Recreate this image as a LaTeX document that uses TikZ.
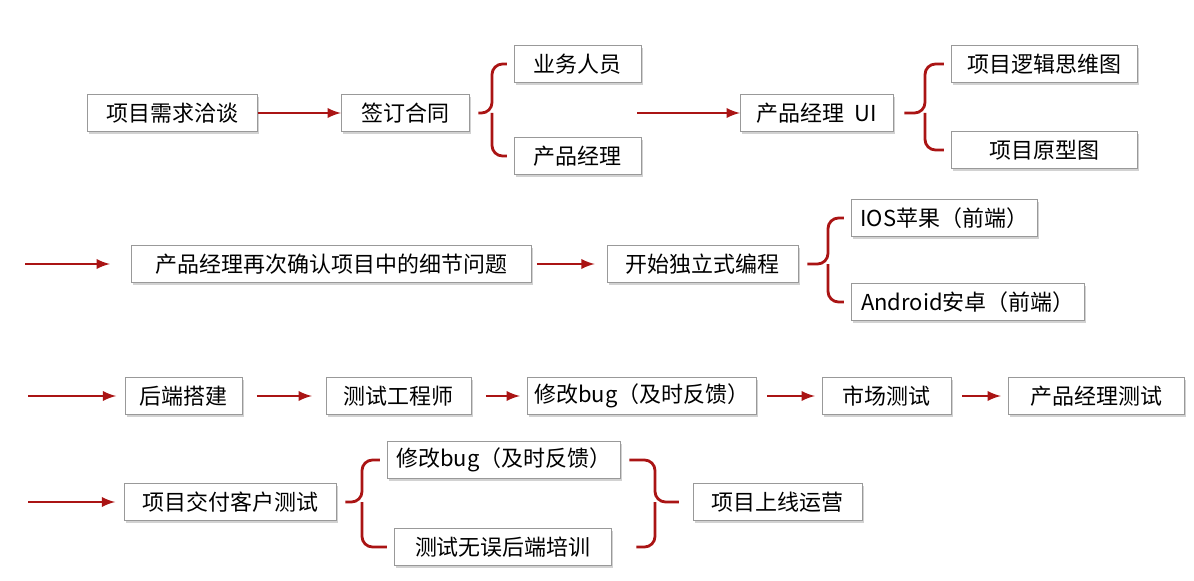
\documentclass[tikz,border=0pt]{standalone}
\usepackage{fontspec}
\setmainfont{Noto Sans CJK SC}
\usetikzlibrary{shadows}
\newcommand{\pxl}{0.02cm}
\definecolor{arrred}{RGB}{170,20,20}
\tikzset{
  box/.style={draw=gray!80, fill=white, anchor=west, inner xsep=0pt,
    minimum height=37*\pxl, font=\fontsize{12.5}{14}\selectfont,
    drop shadow={opacity=0.35, shadow xshift=1.2pt, shadow yshift=-1.2pt}},
  flow/.style={draw=arrred, line width=1.6pt, -latex},
  brc/.style={draw=arrred, line width=1.6pt, rounded corners=6pt}
}
\begin{document}
\begin{tikzpicture}[x=0.02cm, y=-0.02cm]
    \useasboundingbox[fill=white] (0,0) rectangle (1194,581);
    % row one
    \node[box, minimum width=170*\pxl] (xqqt) at (87,113) {项目需求洽谈};
    \node[box, minimum width=128*\pxl] (qdht) at (341,113) {签订合同};
    \node[box, minimum width=127*\pxl] (ywry) at (514,64) {业务人员};
    \node[box, minimum width=127*\pxl] (cpjl) at (514,156) {产品经理};
    \node[box, minimum width=153*\pxl] (cpui) at (740,113) {产品经理\ \ UI};
    \node[box, minimum width=186*\pxl] (ljst) at (951,64) {项目逻辑思维图};
    \node[box, minimum width=186*\pxl] (yxt) at (951,150) {项目原型图};
    \coordinate (a1) at (637,113);
    \draw[flow] (xqqt) -- (qdht);
    \draw[flow] (a1) -- (cpui);
    \draw[brc] ([xshift=-4]ywry.west) -| (492,113) -- ([xshift=5]qdht.east);
    \draw[brc] ([xshift=-4]cpjl.west) -| (492,113);
    \draw[brc] ([xshift=-4]ljst.west) -| (925,113) -- ([xshift=6]cpui.east);
    \draw[brc] ([xshift=-4]yxt.west) -| (925,113);
    % row two
    \coordinate (a2) at (25,264);
    \node[box, minimum width=400*\pxl] (qrxj) at (131,264) {产品经理再次确认项目中的细节问题};
    \node[box, minimum width=191*\pxl] (dlbc) at (607,264) {开始独立式编程};
    \node[box, minimum width=186*\pxl] (ios) at (851,218) {IOS苹果（前端）};
    \node[box, minimum width=233*\pxl] (andr) at (851,302) {Android安卓（前端）};
    \draw[flow] (a2) -- ([xshift=-12]qrxj.west);
    \draw[flow] ([xshift=3]qrxj.east) -- ([xshift=-7]dlbc.west);
    \draw[brc] ([xshift=-4]ios.west) -| (828,264) -- ([xshift=5]dlbc.east);
    \draw[brc] ([xshift=-4]andr.west) -| (828,264);
    % row three
    \coordinate (a3) at (28,396);
    \node[box, minimum width=117*\pxl] (hdjj) at (125,396) {后端搭建};
    \node[box, minimum width=145*\pxl] (csgc) at (326,396) {测试工程师};
    \node[box, minimum width=229*\pxl] (xgbug) at (527,396) {修改bug（及时反馈）};
    \node[box, minimum width=129*\pxl] (sccs) at (822,396) {市场测试};
    \node[box, minimum width=176*\pxl] (cpcs) at (1008,396) {产品经理测试};
    \draw[flow] (a3) -- ([xshift=-5]hdjj.west);
    \draw[flow] ([xshift=8]hdjj.east) -- ([xshift=-8]csgc.west);
    \draw[flow] ([xshift=8]csgc.east) -- ([xshift=-4]xgbug.west);
    \draw[flow] ([xshift=6]xgbug.east) -- ([xshift=-4]sccs.west);
    \draw[flow] ([xshift=6]sccs.east) -- ([xshift=-4]cpcs.west);
    % row four
    \coordinate (a4) at (28,502);
    \node[box, minimum width=212*\pxl] (jfcs) at (124,502) {项目交付客户测试};
    \node[box, minimum width=233*\pxl] (xgbug2) at (387,460) {修改bug（及时反馈）};
    \node[box, minimum width=217*\pxl] (hdpx) at (394,547) {测试无误后端培训};
    \node[box, minimum width=169*\pxl] (sxyy) at (693,502) {项目上线运营};
    \draw[flow] (a4) -- ([xshift=-5]jfcs.west);
    \draw[brc] ([xshift=-4]xgbug2.west) -| (362,502) -- ([xshift=5]jfcs.east);
    \draw[brc] ([xshift=-4]hdpx.west) -| (362,502);
    \draw[brc] ([xshift=5]xgbug2.east) -| (655,502) -- ([xshift=-8]sxyy.west);
    \draw[brc] ([xshift=14]hdpx.east) -| (655,502);
\end{tikzpicture}
\end{document}
